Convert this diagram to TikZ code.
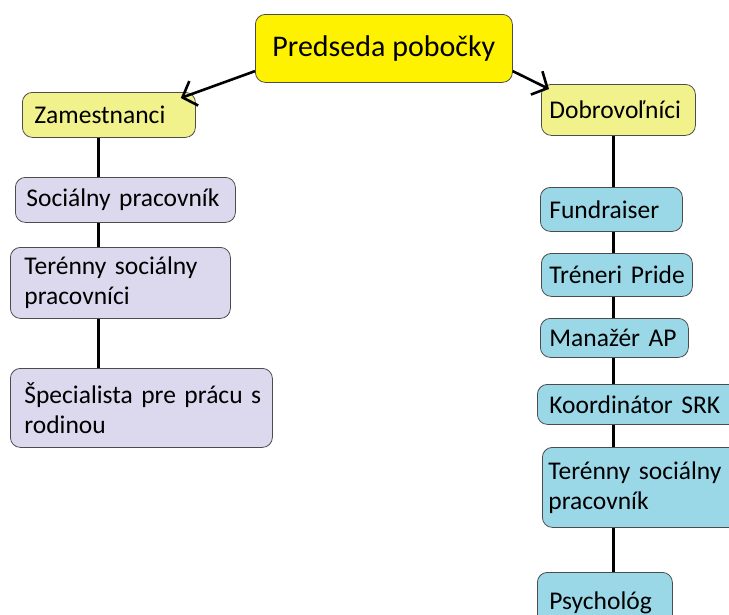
\documentclass[tikz,border=0pt]{standalone}
\usepackage{fontspec}
\setmainfont{Carlito}
\usetikzlibrary{arrows.meta}
\definecolor{headyellow}{HTML}{FFF200}
\definecolor{paleyellow}{HTML}{F2F28C}
\definecolor{lilac}{HTML}{DCD8EE}
\definecolor{skyblue}{HTML}{9AD8E8}
\tikzset{
 box/.style={draw=black!70, line width=0.8pt, rounded corners=10pt, anchor=north west,
   align=left, inner ysep=0pt, font=\fontsize{25.5}{30}\selectfont},
 groupbox/.style={box, fill=paleyellow},
 staffbox/.style={box, fill=lilac},
 volbox/.style={box, fill=skyblue},
 link/.style={line width=3pt},
 arrow/.style={line width=2.6pt, -{Straight Barb[length=12pt,width=26pt]}},
}
\begin{document}
\begin{tikzpicture}[x=1pt,y=-1pt]
        \useasboundingbox (0,0) rectangle (729,614);
        \clip (0,0) rectangle (729,614);
        \node [box, fill=headyellow, align=center, minimum width=257pt, minimum height=68pt,
          font=\fontsize{30}{36}\selectfont] (pred) at (255,14) {Predseda~pobočky};
        \node [groupbox, inner xsep=12pt, text width=149pt, minimum height=45pt] (zam) at (22,92) {Zamestnanci};
        \node [groupbox, inner xsep=8pt, text width=138pt, minimum height=51pt] (dob) at (541,84) {Dobrovoľníci};
        \node [staffbox, inner xsep=11pt, text width=198pt, minimum height=45pt] (soc) at (15,177) {Sociálny~pracovník};
        \node [staffbox, inner xsep=14pt, text width=192pt, minimum height=71pt] (ter) at (10,247) {Terénny~sociálny\\pracovníci};
        \node [staffbox, inner xsep=14pt, text width=234pt, minimum height=79pt] (spec) at (10,368) {Špecialista~pre~prácu~s\\rodinou};
        \node [volbox, inner xsep=9pt, text width=124pt, minimum height=44pt] (fund) at (540,187) {Fundraiser};
        \node [volbox, inner xsep=8pt, text width=135pt, minimum height=43pt] (tren) at (541,253) {Tréneri~Pride};
        \node [volbox, inner xsep=9pt, text width=130pt, minimum height=39pt] (man) at (540,318) {Manažér~AP};
        \node [volbox, inner xsep=12pt, text width=181pt, minimum height=40pt] (koor) at (537,384) {Koordinátor~SRK};
        \node [volbox, inner xsep=6pt, text width=188pt, minimum height=80pt] (ters) at (542,447) {Terénny~sociálny\\pracovník};
        \node [volbox, inner xsep=12pt, text width=111pt, minimum height=60pt] (psy) at (537,572) {Psychológ};
        \coordinate (lx) at (98,0);
        \coordinate (rx) at (613,0);
        \draw [arrow] (pred.190) -- ([shift={(-15pt,-6pt)}]zam.north east);
        \draw [arrow] (pred.350) -- ([shift={(8pt,-5pt)}]dob.north west);
        \draw [link] (zam.south -| lx) -- (soc.north -| lx);
        \draw [link] (soc.south -| lx) -- (ter.north -| lx);
        \draw [link] (ter.south -| lx) -- (spec.north -| lx);
        \draw [link] (dob.south -| rx) -- (fund.north -| rx);
        \draw [link] (fund.south -| rx) -- (tren.north -| rx);
        \draw [link] (tren.south -| rx) -- (man.north -| rx);
        \draw [link] (man.south -| rx) -- (koor.north -| rx);
        \draw [link] (koor.south -| rx) -- (ters.north -| rx);
        \draw [link] (ters.south -| rx) -- (psy.north -| rx);
    \end{tikzpicture}
\end{document}
